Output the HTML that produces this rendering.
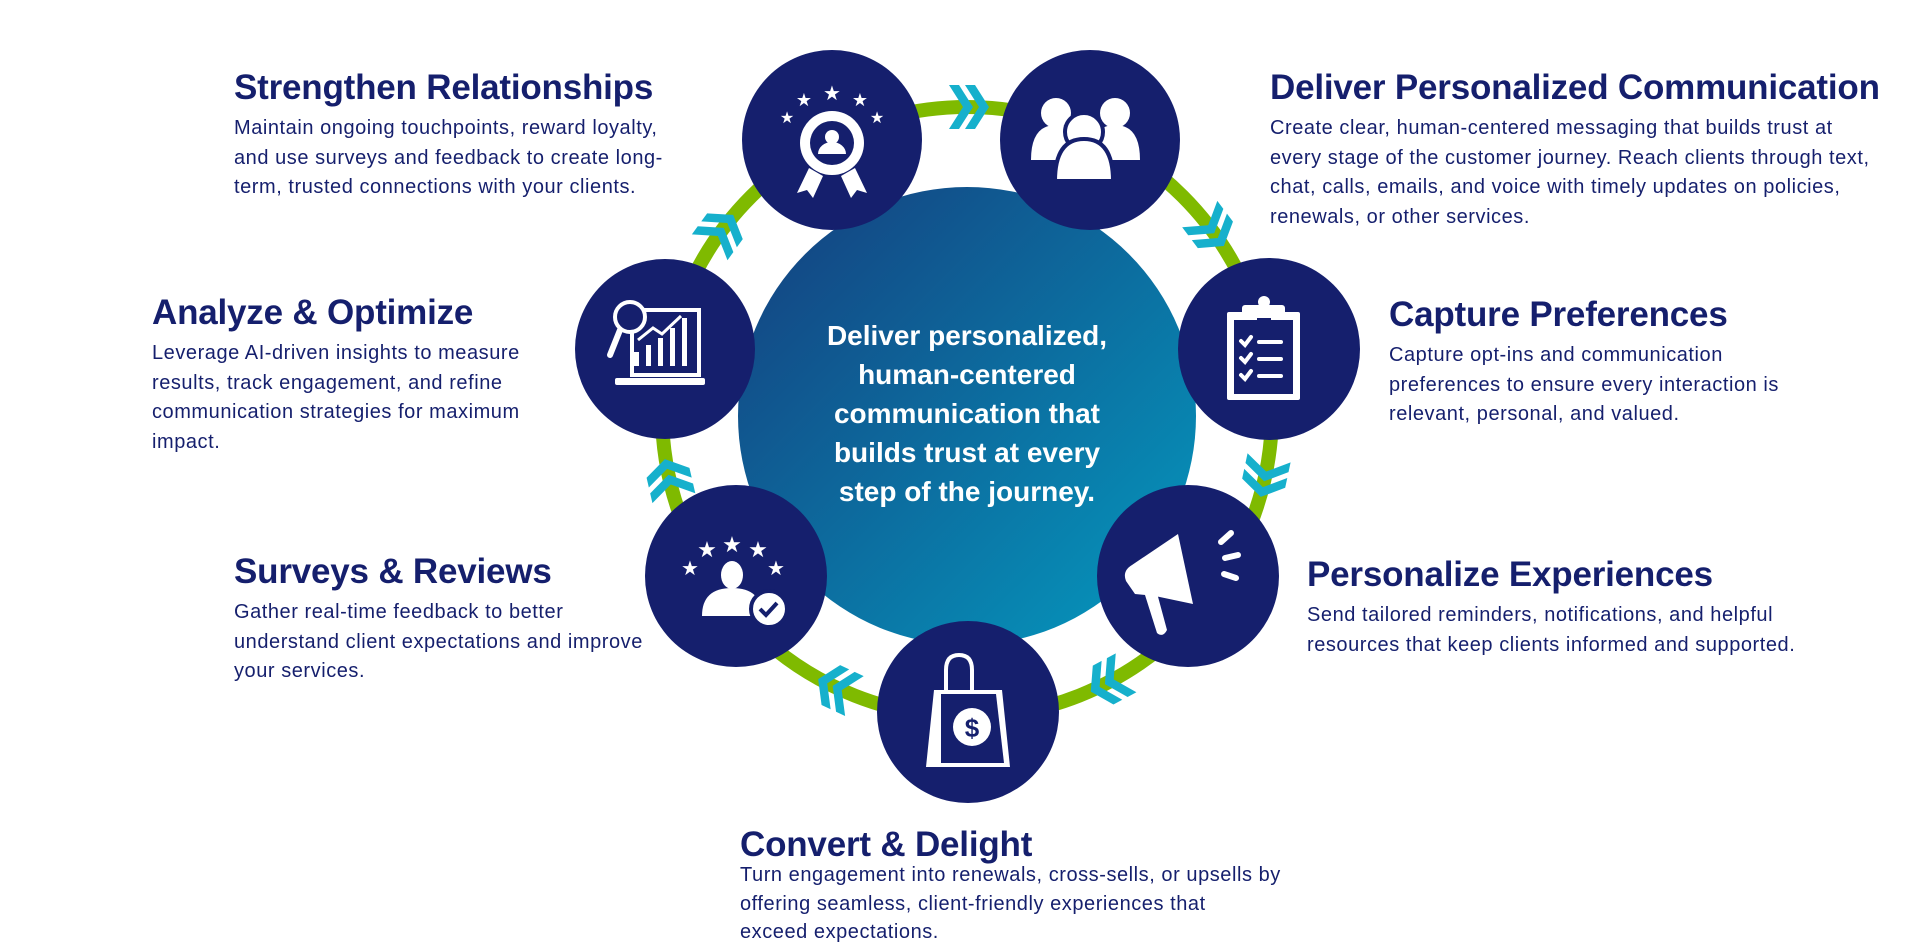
<!DOCTYPE html>
<html><head><meta charset="utf-8"><style>
html,body{margin:0;padding:0;background:#fff;}
body{width:1920px;height:950px;position:relative;overflow:hidden;font-family:"Liberation Sans",sans-serif;color:#151f6d;}
.t{position:absolute;}
.t h2{margin:0;font-size:35px;font-weight:bold;line-height:40px;letter-spacing:-0.2px;color:#151f6d;}
.t p{margin:6px 0 0 0;font-size:20px;letter-spacing:0.55px;line-height:29.5px;color:#151f6d;}
svg{position:absolute;left:0;top:0;}
.ct{position:absolute;left:767px;top:316px;width:400px;text-align:center;color:#fff;font-size:28px;font-weight:bold;line-height:39px;}
</style></head><body>
<svg width="1920" height="950" viewBox="0 0 1920 950">
<defs>
<linearGradient id="g" x1="0" y1="0" x2="1" y2="1">
<stop offset="0" stop-color="#153d7d"/><stop offset="1" stop-color="#049bc0"/>
</linearGradient>
<g id="chev" fill="#16b0cc">
<polygon points="-18,-22 -8,-22 6,0 -8,22 -18,22 -4,0"/>
<polygon points="-2,-22 8,-22 22,0 8,22 -2,22 12,0"/>
</g>
</defs>
<circle cx="967" cy="412" r="305" fill="none" stroke="#7fba00" stroke-width="14"/>
<circle cx="967" cy="416" r="229" fill="url(#g)"/>
<g transform="translate(967,412)">
<use href="#chev" transform="rotate(-90) translate(305,0) rotate(90)"/>
<use href="#chev" transform="rotate(-37) translate(305,0) rotate(90)"/>
<use href="#chev" transform="rotate(12) translate(305,0) rotate(90)"/>
<use href="#chev" transform="rotate(62) translate(305,0) rotate(90)"/>
<use href="#chev" transform="rotate(115) translate(305,0) rotate(90)"/>
<use href="#chev" transform="rotate(167) translate(305,0) rotate(90)"/>
<use href="#chev" transform="rotate(216) translate(305,0) rotate(90)"/>
</g>
<g fill="#151f6d">
<circle cx="832" cy="140" r="90"/>
<circle cx="1090" cy="140" r="90"/>
<circle cx="1269" cy="349" r="91"/>
<circle cx="1188" cy="576" r="91"/>
<circle cx="968" cy="712" r="91"/>
<circle cx="736" cy="576" r="91"/>
<circle cx="665" cy="349" r="90"/>
</g>
<!-- award -->
<g transform="translate(-3,-12)" fill="#fff">
<text x="835" y="112" font-size="20" text-anchor="middle" font-family="DejaVu Sans">★</text>
<text x="807" y="118" font-size="18" text-anchor="middle" font-family="DejaVu Sans">★</text>
<text x="863" y="118" font-size="18" text-anchor="middle" font-family="DejaVu Sans">★</text>
<text x="790" y="135" font-size="16" text-anchor="middle" font-family="DejaVu Sans">★</text>
<text x="880" y="135" font-size="16" text-anchor="middle" font-family="DejaVu Sans">★</text>
<circle cx="835" cy="155" r="32"/>
<polygon points="812,180 800,205 810,202 816,210 826,188"/>
<polygon points="858,180 870,205 860,202 854,210 844,188"/>
<circle cx="835" cy="155" r="22" fill="#151f6d"/>
<circle cx="835" cy="149" r="7"/>
<path d="M821,166 a14,12 0 0 1 28,0 z"/>
</g>
<!-- people -->
<g transform="translate(-5,-12)" fill="#fff">
<circle cx="1061" cy="125" r="15"/><circle cx="1120" cy="125" r="15"/>
<path d="M1036,172 q0,-35 25,-35 q25,0 25,35z"/>
<path d="M1095,172 q0,-35 25,-35 q25,0 25,35z"/>
<circle cx="1089" cy="144" r="19" stroke="#151f6d" stroke-width="4"/>
<path d="M1060,193 q0,-42 29,-42 q29,0 29,42z" stroke="#151f6d" stroke-width="4"/>
</g>
<!-- clipboard -->
<g transform="translate(-6,0)">
<rect x="1233" y="312" width="73" height="88" fill="#fff" rx="2"/>
<rect x="1240" y="320" width="59" height="74" fill="#151f6d"/>
<rect x="1248" y="305" width="43" height="14" fill="#fff" rx="3"/>
<circle cx="1270" cy="302" r="6" fill="#fff"/>
<rect x="1263" y="318" width="14" height="4" fill="#151f6d"/>
<g stroke="#fff" stroke-width="4" fill="none" stroke-linecap="round">
<path d="M1247,341 l4,4 l6,-8"/><path d="M1247,358 l4,4 l6,-8"/><path d="M1247,375 l4,4 l6,-8"/>
<path d="M1265,342 h22"/><path d="M1265,359 h22"/><path d="M1265,376 h22"/>
</g>
</g>
<!-- analyze -->
<g transform="translate(-2,0)">
<rect x="634" y="310" width="67" height="65" fill="none" stroke="#fff" stroke-width="4"/>
<rect x="617" y="378" width="90" height="7" fill="#fff" rx="2"/>
<g fill="#fff"><rect x="636" y="352" width="5" height="14"/><rect x="648" y="345" width="5" height="21"/><rect x="660" y="338" width="5" height="28"/><rect x="672" y="328" width="5" height="38"/><rect x="684" y="318" width="5" height="48"/></g>
<polyline points="640,340 655,328 664,334 683,316" stroke="#fff" stroke-width="3" fill="none"/>
<circle cx="632" cy="317" r="15" fill="#151f6d" stroke="#fff" stroke-width="4"/>
<line x1="622" y1="330" x2="612" y2="355" stroke="#fff" stroke-width="6" stroke-linecap="round"/>
</g>
<!-- surveys -->
<g transform="translate(-4,-15)" fill="#fff" font-family="DejaVu Sans" text-anchor="middle">
<text x="736" y="567" font-size="22">★</text>
<text x="711" y="572" font-size="22">★</text>
<text x="762" y="572" font-size="22">★</text>
<text x="694" y="590" font-size="20">★</text>
<text x="780" y="590" font-size="20">★</text>
<ellipse cx="736" cy="590" rx="11" ry="14"/>
<path d="M706,631 q0,-28 30,-28 q30,0 30,28z"/>
<circle cx="773" cy="624" r="18" stroke="#151f6d" stroke-width="4"/>
<path d="M764,624 l6,6 l11,-12" stroke="#151f6d" stroke-width="4" fill="none"/>
</g>
<!-- megaphone -->
<g transform="translate(-7,-15)" fill="#fff">
<path d="M1133,596 q-4,-10 6,-16 l46,-31 l15,70 l-38,-8 l-20,-2z"/>
<path d="M1152,610 l12,-2 l10,37 q-4,8 -10,3z"/>
<g stroke="#fff" stroke-width="6" stroke-linecap="round"><line x1="1228" y1="557" x2="1238" y2="548"/><line x1="1232" y1="573" x2="1245" y2="570"/><line x1="1231" y1="589" x2="1243" y2="593"/></g>
</g>
<!-- bag -->
<g transform="translate(-2,0)">
<path d="M948,690 v-20 q0,-15 13,-15 q13,0 13,15 v20" fill="none" stroke="#fff" stroke-width="4"/>
<polygon points="936,690 1004,690 1012,767 928,767" fill="#fff"/>
<polygon points="943,694 998,694 1006,763 943,763" fill="#151f6d"/>
<circle cx="974" cy="727" r="19" fill="#fff"/>
<text x="974" y="737" font-size="26" font-weight="bold" fill="#151f6d" text-anchor="middle" font-family="Liberation Sans">$</text>
</g>
</svg>
<div class="ct">Deliver personalized,<br>human-centered<br>communication that<br>builds trust at every<br>step of the journey.</div>

<div class="t" style="left:234px;top:68px;width:450px"><h2>Strengthen Relationships</h2><p>Maintain ongoing touchpoints, reward loyalty, and use surveys and feedback to create long-term, trusted connections with your clients.</p></div>
<div class="t" style="left:1270px;top:68px;width:645px"><h2 style="white-space:nowrap">Deliver Personalized Communication</h2><p style="width:600px">Create clear, human-centered messaging that builds trust at every stage of the customer journey. Reach clients through text, chat, calls, emails, and voice with timely updates on policies, renewals, or other services.</p></div>
<div class="t" style="left:152px;top:293px;width:400px"><h2>Analyze &amp; Optimize</h2><p>Leverage AI-driven insights to measure results, track engagement, and refine communication strategies for maximum impact.</p></div>
<div class="t" style="left:1389px;top:295px;width:420px"><h2>Capture Preferences</h2><p>Capture opt-ins and communication preferences to ensure every interaction is relevant, personal, and valued.</p></div>
<div class="t" style="left:234px;top:552px;width:440px"><h2>Surveys &amp; Reviews</h2><p>Gather real-time feedback to better understand client expectations and improve your services.</p></div>
<div class="t" style="left:1307px;top:555px;width:520px"><h2>Personalize Experiences</h2><p>Send tailored reminders, notifications, and helpful resources that keep clients informed and supported.</p></div>
<div class="t" style="left:740px;top:825px;width:580px"><h2>Convert &amp; Delight</h2><p style="margin-top:-4px;line-height:28.5px;white-space:nowrap">Turn engagement into renewals, cross-sells, or upsells by<br>offering seamless, client-friendly experiences that<br>exceed expectations.</p></div>
</body></html>
